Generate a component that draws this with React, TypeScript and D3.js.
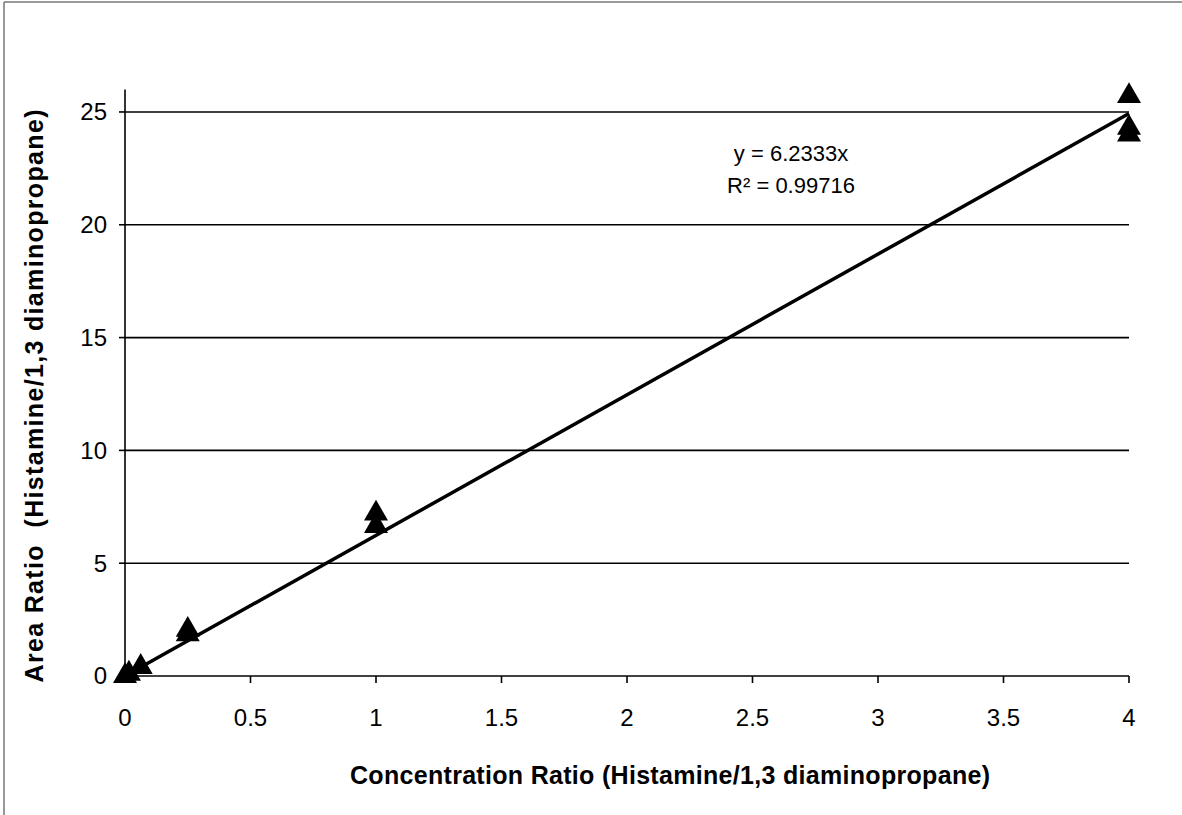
import React from 'react';
import * as d3 from 'd3';

// calibration points
const concRatio = [0, 0.0156, 0.0625, 0.25, 0.25, 1, 1, 4, 4, 4];
const areaRatio = [0, 0.1, 0.4, 1.85, 2.05, 6.65, 7.2, 24.0, 24.3, 25.7];
const slope = 6.2333;
const rSquared = '0.99716';
const xTicks = [0, 0.5, 1, 1.5, 2, 2.5, 3, 3.5, 4];
const yTicks = [0, 5, 10, 15, 20, 25];

const width = 1182;
const height = 815;
const font = 'Liberation Sans, Arial, Helvetica, sans-serif';

export default function App() {
  const x = d3.scaleLinear().domain([0, 4]).range([125, 1129]);
  const y = d3.scaleLinear().domain([0, 26]).range([676, 89.4]);

  const points = concRatio.map((c, i) => ({ c, a: areaRatio[i] }));
  const tri = d3.symbol().type(d3.symbolTriangle).size(250);
  const fit = d3.line<number>().x(d => x(d)).y(d => y(d * slope));

  return (
    <svg width={width} height={height} style={{ position: 'absolute', left: 0, top: 0 }} fontFamily={font}>
      <rect width={width} height={height} fill="#fff" />
      {/* frame, only top and left show */}
      <line x1={4} x2={width} y1={2} y2={2} stroke="#777" strokeWidth={1.5} />
      <line x1={4} x2={4} y1={2} y2={height} stroke="#777" strokeWidth={1.5} />

      {/* gridlines */}
      {yTicks.filter(t => t > 0).map(t => (
        <line key={'g' + t} x1={x(0)} x2={x(4)} y1={y(t)} y2={y(t)} stroke="#000" strokeWidth={1.6} />
      ))}

      {/* axes */}
      <line x1={x(0)} x2={x(0)} y1={y(26)} y2={y(0)} stroke="#000" strokeWidth={1.6} />
      <line x1={x(0)} x2={x(4)} y1={y(0)} y2={y(0)} stroke="#000" strokeWidth={1.6} />
      {yTicks.map(t => (
        <g key={'y' + t}>
          <line x1={x(0) - 6} x2={x(0)} y1={y(t)} y2={y(t)} stroke="#000" strokeWidth={1.6} />
          <text x={107} y={y(t)} dy="0.35em" textAnchor="end" fontSize={24}>{t}</text>
        </g>
      ))}
      {xTicks.map(t => (
        <g key={'x' + t}>
          <line x1={x(t)} x2={x(t)} y1={y(0)} y2={y(0) + 7} stroke="#000" strokeWidth={1.6} />
          <text x={x(t)} y={718} dy="0.35em" textAnchor="middle" fontSize={24}>{t}</text>
        </g>
      ))}

      {/* trend line */}
      <path d={fit([0, 4]) || ''} fill="none" stroke="#000" strokeWidth={3.5} />

      {/* points */}
      {points.map((p, i) => (
        <path key={i} d={tri() || ''} transform={`translate(${x(p.c)},${y(p.a)})`} fill="#000" />
      ))}

      <text x={791} y={153} dy="0.35em" textAnchor="middle" fontSize={22}>y = {slope}x</text>
      <text x={791} y={185} dy="0.35em" textAnchor="middle" fontSize={22}>R² = {rSquared}</text>

      <text x={670} y={775} dy="0.35em" textAnchor="middle" fontSize={25} fontWeight="bold"
        textLength={640} lengthAdjust="spacing">
        Concentration Ratio (Histamine/1,3 diaminopropane)
      </text>
      <text transform={`translate(34,396) rotate(-90)`} dy="0.35em" textAnchor="middle" fontSize={25} fontWeight="bold"
        textLength={573} lengthAdjust="spacing" style={{ whiteSpace: 'pre' }}>
        {'Area Ratio  (Histamine/1,3 diaminopropane)'}
      </text>
    </svg>
  );
}
